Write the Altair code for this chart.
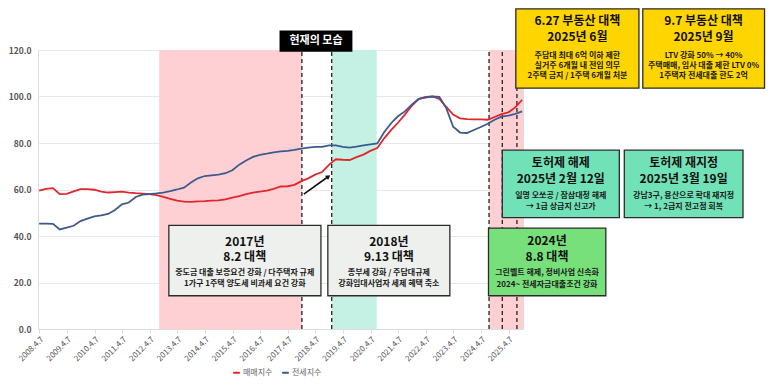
import altair as alt
import pandas as pd

# ---------------- data ----------------
periods = [2008.25 + 0.25 * i for i in range(71)]

sale_index = [
    59.5, 60.3, 60.6,
    58.0, 58.1, 59.2, 60.2,
    60.2, 59.9, 59.1, 58.7,
    58.9, 59.1, 58.7, 58.4,
    58.2, 58.0, 57.6, 56.8,
    56.0, 55.2, 54.8, 54.7,
    54.9, 55.0, 55.2, 55.3,
    55.8, 56.5, 57.2, 58.0,
    58.7, 59.1, 59.5, 60.3,
    61.3, 61.4, 62.0, 63.6,
    64.8, 66.4, 67.5, 70.6,
    73.0, 72.8, 72.7, 73.9,
    75.0, 76.6, 77.8, 82.0,
    85.5, 88.7, 92.2, 96.0,
    98.9, 99.8, 100.0, 99.0,
    95.5, 92.2, 90.6, 90.3,
    90.2, 90.2, 90.0, 91.2,
    92.4, 93.2, 95.3, 98.6,
]

jeonse_index = [
    45.3, 45.3, 45.2,
    42.8, 43.6, 44.4, 46.4,
    47.5, 48.4, 48.9, 49.5,
    51.2, 53.6, 54.4, 56.8,
    57.8, 58.0, 58.3, 58.7,
    59.3, 60.0, 60.8, 63.0,
    64.8, 65.8, 66.1, 66.4,
    67.0, 68.3, 70.7, 72.5,
    74.0, 74.9, 75.4, 76.0,
    76.4, 76.6, 77.0, 77.6,
    78.0, 78.3, 78.3, 79.0,
    79.0, 78.3, 78.0, 78.4,
    79.0, 79.4, 79.8, 84.6,
    88.5, 91.5, 93.6, 96.5,
    99.0, 99.5, 100.0, 99.8,
    95.0, 87.0, 84.5, 84.3,
    85.6, 86.9, 88.3, 90.0,
    91.3, 91.8, 92.5, 93.6,
]

series_names = ["매매지수", "전세지수"]
series_colors = ["#e3262b", "#3d5a8e"]

tick_years = list(range(2008, 2026))
y_ticks = [0, 20, 40, 60, 80, 100, 120]

# policy event dates (decimal years on the chart's axis)
event_dates = [2017.77, 2018.85, 2024.55, 2025.03, 2025.56]

# shaded periods
shade_start = [2012.60, 2018.85, 2024.55]
shade_end = [2017.77, 2020.48, 2025.78]
shade_fill = ["#ffd0d3", "#c4f1e4", "#ffd0d3"]

# annotation boxes (data units)
box_x1 = [2012.95, 2018.71, 2024.53, 2025.03, 2029.45, 2025.52, 2030.12]
box_x2 = [2018.46, 2023.13, 2028.78, 2029.27, 2033.75, 2029.98, 2034.53]
box_y1 = [44.6, 44.6, 43.4, 76.9, 76.9, 137.7, 137.7]
box_y2 = [14.3, 14.3, 14.3, 47.9, 47.9, 103.6, 103.6]
box_fill = ["#eef0ee", "#eef0ee", "#77e07b", "#71e2b7", "#71e2b7", "#ffd500", "#ffd500"]

box_center = [2015.70, 2020.92, 2026.65, 2027.15, 2031.60, 2027.75, 2032.32]
title_lines = [
    ["2017년", "8.2 대책"],
    ["2018년", "9.13 대책"],
    ["2024년", "8.8 대책"],
    ["토허제 해제", "2025년 2월 12일"],
    ["토허제 재지정", "2025년 3월 19일"],
    ["6.27 부동산 대책", "2025년 6월"],
    ["9.7 부동산 대책", "2025년 9월"],
]
title_y = [
    [37.6, 30.9], [37.6, 30.9], [37.8, 31.1],
    [71.4, 64.7], [71.4, 64.7],
    [132.6, 125.7], [132.6, 125.7],
]
body_lines = [
    ["중도금 대출 보증요건 강화 / 다주택자 규제", "1가구 1주택 양도세 비과세 요건 강화"],
    ["종부세 강화 / 주담대규제", "강화임대사업자 세제 혜택 축소"],
    ["그린벨트 해제, 정비사업 신속화", "2024~ 전세자금대출조건 강화"],
    ["일명 오쏘공 / 잠삼대청 해제", "→ 1급 상급지 신고가"],
    ["강남3구, 용산으로 확대 재지정", "→ 1, 2급지 전고점 회복"],
    ["주담대 최대 6억 이하 제한", "실거주 6개월 내 전입 의무", "2주택 금지 / 1주택 6개월 처분"],
    ["LTV 강화 50% → 40%", "주택매매, 임사 대출 제한 LTV 0%", "1주택자 전세대출 한도 2억"],
]
body_y = [
    [24.3, 19.4], [24.3, 19.4], [24.3, 19.1],
    [57.3, 52.3], [57.3, 52.3],
    [117.6, 113.1, 108.7], [117.6, 113.1, 108.7],
]

# "현재의 모습" label and arrow
label_text = "현재의 모습"
label_box = (2016.96, 2019.60, 128.4, 119.2)
label_pos = (2018.28, 123.8)
arrow_start = (2017.84, 58.0)
arrow_head = (2018.73, 65.6)

FONT = "Noto Sans CJK KR"

# ---------------- tables ----------------
lines_df = pd.DataFrame({
    "t": periods * 2,
    "v": sale_index + jeonse_index,
    "s": [series_names[0]] * len(periods) + [series_names[1]] * len(periods),
})
shade_df = pd.DataFrame({"t": shade_start, "t2": shade_end, "v": [0] * 3, "v2": [120] * 3, "f": shade_fill})
event_df = pd.DataFrame({"t": event_dates, "v": [0] * len(event_dates), "v2": [120] * len(event_dates)})
box_df = pd.DataFrame({"t": box_x1, "t2": box_x2, "v": box_y1, "v2": box_y2, "f": box_fill})

title_rows, body_rows = [], []
for i, c in enumerate(box_center):
    for txt, yy in zip(title_lines[i], title_y[i]):
        title_rows.append({"t": c, "v": yy, "txt": txt})
    for txt, yy in zip(body_lines[i], body_y[i]):
        body_rows.append({"t": c, "v": yy, "txt": txt})
title_df = pd.DataFrame(title_rows)
body_df = pd.DataFrame(body_rows)

label_box_df = pd.DataFrame({"t": [label_box[0]], "t2": [label_box[1]], "v": [label_box[2]], "v2": [label_box[3]]})
label_df = pd.DataFrame({"t": [label_pos[0]], "v": [label_pos[1]], "txt": [label_text]})
arrow_df = pd.DataFrame({"t": [arrow_start[0]], "v": [arrow_start[1]], "t2": [arrow_head[0]], "v2": [arrow_head[1]]})
head_df = pd.DataFrame({"t": [arrow_head[0]], "v": [arrow_head[1]]})

# ---------------- encodings ----------------
xscale = alt.Scale(domain=[2008.21, 2025.78], nice=False, zero=False)
yscale = alt.Scale(domain=[0, 120], nice=False, zero=True)

xaxis = alt.Axis(
    values=[y + 0.26 for y in tick_years],
    labelExpr="floor(datum.value) + '.4.7'",
    labelAngle=-45, labelAlign="right", labelBaseline="top",
    labelFontSize=8, labelColor="#555", labelFont=FONT, labelOverlap=False,
    grid=False, domainColor="#dddddd", tickColor="#dddddd", tickSize=4,
    title=None, labelPadding=2,
)
yaxis = alt.Axis(
    values=y_ticks, format=".1f", labelFontSize=8.5, labelColor="#555",
    labelFontWeight="bold", labelFont=FONT,
    grid=True, gridColor="#e8e8e8", domain=False, ticks=False, title=None, labelPadding=7,
)

X = alt.X("t:Q", scale=xscale, axis=xaxis)
Y = alt.Y("v:Q", scale=yscale, axis=yaxis)

shade = alt.Chart(shade_df).mark_rect().encode(
    x=X, x2="t2:Q", y=Y, y2="v2:Q", fill=alt.Fill("f:N", scale=None)
)
events = alt.Chart(event_df).mark_rule(strokeDash=[4, 3], color="#222", strokeWidth=1.3).encode(
    x=X, y=Y, y2="v2:Q"
)
lines = alt.Chart(lines_df).mark_line(strokeWidth=1.8).encode(
    x=X, y=Y,
    color=alt.Color(
        "s:N",
        scale=alt.Scale(domain=series_names, range=series_colors),
        legend=alt.Legend(
            orient="none", legendX=194, legendY=318, direction="horizontal",
            symbolType="stroke", symbolStrokeWidth=2, symbolSize=45,
            labelFontSize=8, labelColor="#666", labelFont=FONT, title=None,
            columnPadding=5, labelOffset=2, symbolOffset=0,
        ),
    ),
    order="t:Q",
)
arrow = alt.Chart(arrow_df).mark_rule(color="#111", strokeWidth=1.6).encode(
    x=X, y=Y, x2="t2:Q", y2="v2:Q"
)
head = alt.Chart(head_df).mark_point(shape="triangle-up", filled=True, color="#111", size=28, angle=54, opacity=1).encode(
    x=X, y=Y
)
boxes = alt.Chart(box_df).mark_rect(stroke="#2b2b2b", strokeWidth=1.3).encode(
    x=X, x2="t2:Q", y=Y, y2="v2:Q", fill=alt.Fill("f:N", scale=None)
)
titles = alt.Chart(title_df).mark_text(font=FONT, fontSize=12, fontWeight="bold", color="#111", baseline="middle").encode(
    x=X, y=Y, text="txt:N"
)
bodies = alt.Chart(body_df).mark_text(font=FONT, fontSize=8, fontWeight="bold", color="#1a1a1a", baseline="middle").encode(
    x=X, y=Y, text="txt:N"
)
label_rect = alt.Chart(label_box_df).mark_rect(color="#000").encode(x=X, x2="t2:Q", y=Y, y2="v2:Q")
label = alt.Chart(label_df).mark_text(font=FONT, fontSize=11, fontWeight="bold", color="#fff", baseline="middle").encode(
    x=X, y=Y, text="txt:N"
)

chart = alt.layer(
    shade, events, lines, arrow, head, boxes, titles, bodies, label_rect, label
).properties(
    width=485, height=279, padding=0
).configure_view(stroke=None).configure(font=FONT)

chart.save("out.html", embed_options={"renderer": "svg", "actions": False})
